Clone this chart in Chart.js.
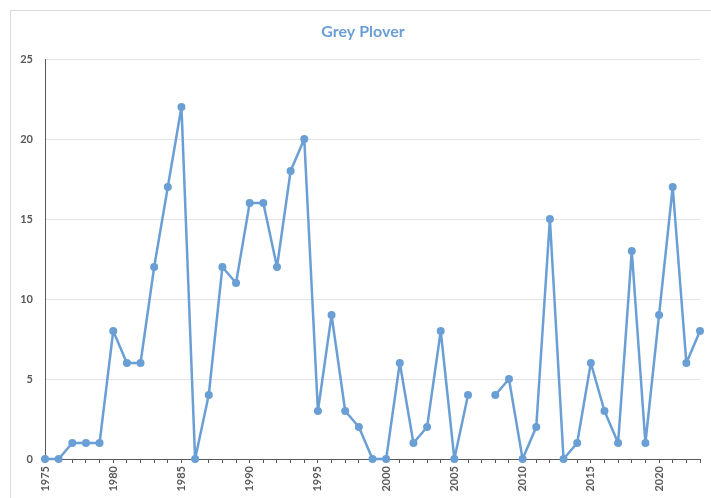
<!DOCTYPE html>
<html>
<head>
<meta charset="utf-8">
<script src="https://cdn.jsdelivr.net/npm/chart.js@4/dist/chart.umd.min.js"></script>
<style>
  html, body { margin: 0; padding: 0; background: #fff; overflow: hidden; }
  #wrap { position: relative; width: 711px; height: 498px; }
  #frame {
    position: absolute; left: 10px; top: 10px; width: 720px; height: 500px;
    border: 1px solid #d9d9d9; box-sizing: border-box;
  }
  canvas { position: absolute; left: 0; top: 0; }
</style>
</head>
<body>
<div id="wrap">
  <div id="frame"></div>
  <canvas id="chart" width="711" height="498"></canvas>
</div>
<script>
// ========== DATA ==========
const chartTitle = "Grey Plover";
const years = [
  1975, 1976, 1977, 1978, 1979, 1980, 1981, 1982, 1983, 1984,
  1985, 1986, 1987, 1988, 1989, 1990, 1991, 1992, 1993, 1994,
  1995, 1996, 1997, 1998, 1999, 2000, 2001, 2002, 2003, 2004,
  2005, 2006, 2007, 2008, 2009, 2010, 2011, 2012, 2013, 2014,
  2015, 2016, 2017, 2018, 2019, 2020, 2021, 2022, 2023
];
const counts = [
  0, 0, 1, 1, 1, 8, 6, 6, 12, 17,
  22, 0, 4, 12, 11, 16, 16, 12, 18, 20,
  3, 9, 3, 2, 0, 0, 6, 1, 2, 8,
  0, 4, null, 4, 5, 0, 2, 15, 0, 1,
  6, 3, 1, 13, 1, 9, 17, 6, 8
];
const yTicks = [0, 5, 10, 15, 20, 25];
const xLabelEvery = 5;

// ========== CHART ==========
const blue = "#6a9fd6";
const axisGrey = "#595959";
const tickFont = { family: "Lato", size: 11, weight: "bold" };

// title drawn by hand: the source centres it over the whole frame, not the plot
const titlePlugin = {
  id: "frameTitle",
  afterDraw(chart) {
    const ctx = chart.ctx;
    ctx.save();
    ctx.font = "bold 16px Lato";
    ctx.fillStyle = blue;
    ctx.textAlign = "center";
    ctx.textBaseline = "middle";
    ctx.fillText(chartTitle, 363, 32);
    ctx.restore();
  },
};

new Chart(document.getElementById("chart"), {
  type: "line",
  data: {
    datasets: [
      {
        label: chartTitle,
        data: years.map((y, i) => ({ x: y, y: counts[i] })),
        borderColor: blue,
        backgroundColor: blue,
        borderWidth: 2.5,
        borderJoinStyle: "round",
        pointRadius: 4,
        pointHoverRadius: 4,
        pointBorderWidth: 0,
        spanGaps: false,
        tension: 0,
        clip: false,
      },
    ],
  },
  options: {
    responsive: false,
    animation: false,
    layout: { padding: { left: 10, right: 11, top: 59, bottom: 0 } },
    plugins: {
      legend: { display: false },
      tooltip: { enabled: false },
      title: { display: false },
    },
    scales: {
      x: {
        type: "linear",
        min: years[0],
        max: years[years.length - 1],
        afterBuildTicks: (scale) => {
          scale.ticks = years.map((v) => ({ value: v }));
        },
        afterFit: (scale) => {
          scale.height = 39;
          scale.paddingLeft = 0;
          scale.paddingRight = 0;
        },
        ticks: {
          autoSkip: false,
          minRotation: 90,
          maxRotation: 90,
          padding: 3,
          color: axisGrey,
          font: tickFont,
          callback: (v) => (v % xLabelEvery === 0 ? String(v) : ""),
        },
        grid: {
          drawOnChartArea: false,
          drawTicks: true,
          tickLength: 4,
          color: axisGrey,
        },
        border: { color: axisGrey, width: 1 },
      },
      y: {
        min: yTicks[0],
        max: yTicks[yTicks.length - 1],
        afterBuildTicks: (scale) => {
          scale.ticks = yTicks.map((v) => ({ value: v }));
        },
        afterFit: (scale) => {
          scale.width = 35;
          scale.paddingTop = 0;
          scale.paddingBottom = 0;
        },
        ticks: { padding: 12, color: axisGrey, font: tickFont },
        grid: { color: "#e3e3e3", drawTicks: false },
        border: { color: axisGrey, width: 1 },
      },
    },
  },
  plugins: [titlePlugin],
});
</script>
</body>
</html>
